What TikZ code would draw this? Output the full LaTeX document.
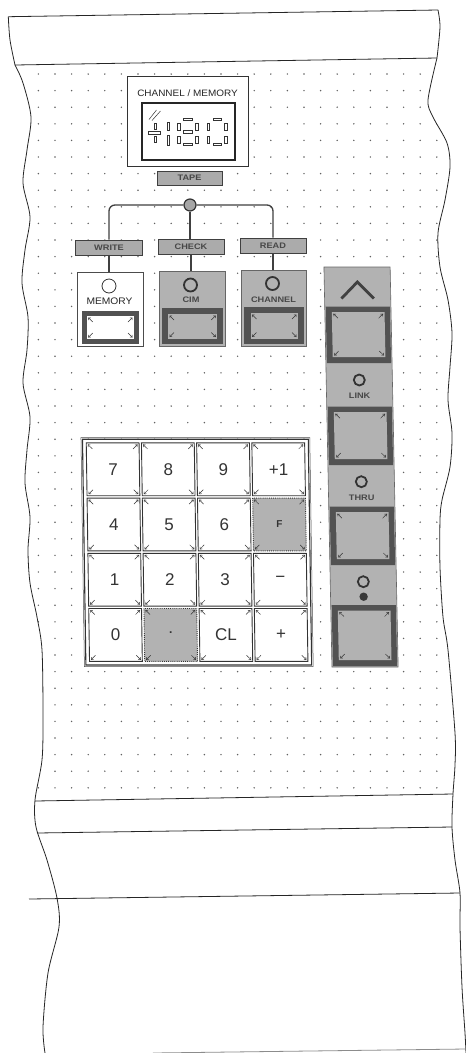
\documentclass[tikz,border=0pt]{standalone}
\usepackage{fontspec}
\setmainfont{Liberation Sans}
\usetikzlibrary{arrows.meta,calc}
\tikzset{
  outline/.style={line width=0.8pt, draw=black!85},
  gdot/.style={fill=black!62},
  lbl/.style={draw=black!75, line width=1pt, fill=black!33, font=\bfseries\fontsize{8}{8}\selectfont, text=black!72, inner sep=0pt, minimum height=15pt},
  bus/.style={line width=1.3pt, draw=black!75, rounded corners=6pt},
  gpanel/.style={draw=black!60, line width=0.6pt, fill=black!30, inner sep=0pt},
  wpanel/.style={draw=black!70, line width=0.6pt, fill=white, inner sep=0pt},
  bframe/.style={fill=black!68},
  binner/.style={fill=black!30},
  winner/.style={fill=white},
  seg/.style={draw=black!80, line width=0.5pt, fill=white},
  lamp/.style={draw=black!80, line width=1.8pt},
  keyt/.style={font=\fontsize{17}{17}\selectfont, text=black!80, inner sep=0pt},
  small/.style={font=\bfseries\fontsize{8}{8}\selectfont, text=black!72, inner sep=0pt},
  keyb/.style={draw=black!80, line width=0.9pt, fill=white},
  cmark/.style={-{Straight Barb[length=1.8pt,width=3pt]}, line width=0.5pt, draw=black!80},
}
\newcommand\hsegm[3]{\draw[seg] ({#1-#3/2},{#2-1.3}) rectangle ({#1+#3/2},{#2+1.3});}
\newcommand\vsegm[3]{\draw[seg] ({#1-1.3},{#2-#3/2}) rectangle ({#1+1.3},{#2+#3/2});}
\newcommand\wide[1]{\scalebox{1.15}[1]{#1}}
\newcommand\cornmk[4]{%
  \draw[cmark] ({#1+6},{#2+6}) -- ({#1+1.5},{#2+1.5});
  \draw[cmark] ({#3-6},{#2+6}) -- ({#3-1.5},{#2+1.5});
  \draw[cmark] ({#1+6},{#4-6}) -- ({#1+1.5},{#4-1.5});
  \draw[cmark] ({#3-6},{#4-6}) -- ({#3-1.5},{#4-1.5});}
\begin{document}
\begin{tikzpicture}[x=1pt,y=-1pt]
\useasboundingbox (0,0) rectangle (466,1053);
\fill[white] (0,0) rectangle (466,1053);

% ---------- dot grid ----------
\begin{scope}
\clip plot[smooth] coordinates {(15,65) (23,83) (31,117) (27,150) (23,183) (30,217) (25,250) (22,283) (28,317) (27,350) (23,383) (30,417) (27,450) (25,483) (30,517) (28,550) (30,583) (37,617) (42,650) (43,717) (42,760) (35,800)}
  -- plot[smooth] coordinates {(453,794) (455,765) (455,733) (448,650) (443,617) (440,567) (440,520) (442,500) (450,467) (452,433) (448,400) (450,367) (452,333) (448,300) (440,267) (438,233) (445,200) (450,167) (447,143) (433,117) (428,100) (437,58)} -- cycle;
\foreach \i in {0,...,24} \foreach \j in {0,...,43}
  \fill[gdot] ({38.4+16.6*\i},{74+16.6*\j}) circle (0.8);
\end{scope}

% ---------- outline ----------
\draw[outline] (8.3,16.7) -- (438,10);
\draw[outline] plot[smooth] coordinates {(8.3,16.7) (10,40) (15,65)};
\draw[outline] (15,65) -- (437,58);
\draw[outline] plot[smooth] coordinates {(438,10) (440,27) (437,58)};
\draw[outline] plot[smooth] coordinates {(15,65) (23,83) (31,117) (27,150) (23,183) (30,217) (25,250) (22,283) (28,317) (27,350) (23,383) (30,417) (27,450) (25,483) (30,517) (28,550) (30,583) (37,617) (42,650) (43,717) (42,760) (35,800) (36,827) (47,860) (57,898) (59,927) (48,973) (43,1027) (45,1053)};
\draw[outline] plot[smooth] coordinates {(437,58) (428,100) (433,117) (447,143) (450,167) (445,200) (438,233) (440,267) (448,300) (452,333) (450,367) (448,400) (452,433) (450,467) (442,500) (440,520) (440,567) (443,617) (448,650) (455,733) (455,765) (453,794) (452,827) (455,860) (460,893) (460,927) (462,987) (465,1033) (466,1053)};
\draw[outline] (35,801) -- (453,794);
\draw[outline] (37,833) -- (452,827);
\draw[outline] (29,899) -- (460,893);
\draw[outline, draw=black!45] (153,1053) -- (466,1049);

% ---------- display ----------
\node[draw=black!80, line width=0.8pt, fill=white, minimum width=121pt, minimum height=90pt, inner sep=0pt] (disp) at (187.5,121) {};
\node[font=\fontsize{9.3}{9.3}\selectfont, text=black!85, inner sep=0pt] (disptitle) at (187.5,93.5) {\scalebox{1.07}[1]{CHANNEL / MEMORY}};
\node[draw=black!85, line width=1.6pt, fill=white, minimum width=93pt, minimum height=57pt, inner sep=0pt] (dispwin) at (188.5,131.5) {};
% indicator marks
\draw[black!80, line width=0.5pt] (149,119.5) -- (156.5,110);
\draw[black!80, line width=0.5pt] (152,120.5) -- (160.5,111);
% sign
\hsegm{154.5}{132.5}{12}
\vsegm{155.3}{126.2}{5.5}
\vsegm{155.3}{139}{5.5}
% 1
\vsegm{168.3}{126.2}{8.5}
\vsegm{168.3}{140}{9.5}
% 8
\hsegm{187.8}{119.3}{8.5}
\hsegm{187.8}{131.7}{8.5}
\hsegm{187.8}{144.3}{8.5}
\vsegm{179}{126.5}{7}
\vsegm{196.7}{126.5}{7}
\vsegm{179}{139.3}{7}
\vsegm{196.7}{139.3}{7}
% 0
\hsegm{217}{119.3}{8.5}
\hsegm{217}{144.3}{8.5}
\vsegm{208.3}{126.5}{7}
\vsegm{225.7}{126.5}{7}
\vsegm{208.3}{139.3}{7}
\vsegm{225.7}{139.3}{7}

% ---------- tape routing ----------
\node[lbl, minimum width=65pt, minimum height=14pt] (tape) at (189.5,178) {\wide{TAPE}};
\node[circle, draw=black!80, line width=1.2pt, fill=black!35, minimum size=12pt, inner sep=0pt] (junc) at (190,205) {};
\node[lbl, minimum width=67pt] (write) at (109,247.5) {\wide{WRITE}};
\node[lbl, minimum width=66pt] (check) at (191,246.5) {\wide{CHECK}};
\node[lbl, minimum width=66pt] (read) at (273,245.5) {\wide{READ}};
\draw[bus] (junc.west) -| (write.north);
\draw[bus] (junc.east) -| (read.north);
\draw[bus] (junc.south) -- (junc.south |- check.north);

% ---------- three panels ----------
\node[wpanel, minimum width=66pt, minimum height=74pt] (mem) at (110,309) {};
\node[gpanel, minimum width=66pt, minimum height=75pt] (cim) at (192,308.5) {};
\node[gpanel, minimum width=65pt, minimum height=76pt] (chan) at (273.5,308) {};
\draw[bus] (write.south) -- (write.south |- mem.north);
\draw[bus] (check.south) -- (check.south |- cim.north);
\draw[bus] (read.south) -- (read.south |- chan.north);

% memory panel
\draw[draw=black!80, line width=0.8pt, fill=white] (109,286) circle (7);
\node[font=\fontsize{9.5}{9.5}\selectfont, text=black!85, inner sep=0pt] (memtxt) at (109.5,301) {\scalebox{1.08}[1]{MEMORY}};
\fill[bframe] (81.7,311) rectangle (139,343.5);
\fill[winner] (86.7,316) rectangle (134,339);
\cornmk{86.7}{316}{134}{339}

% cim panel
\draw[lamp, fill=black!30] (190.5,285) circle (6.5);
\node[small] (cimtxt) at (191,300) {\wide{CIM}};
\fill[bframe] (161.7,308) rectangle (223.3,344);
\fill[binner] (168,314) rectangle (217.3,338.5);
\cornmk{168}{314}{217.3}{338.5}

% channel panel
\draw[lamp, fill=black!30] (272.5,283.5) circle (6.5);
\node[small] (chantxt) at (273.5,299.5) {\wide{CHANNEL}};
\fill[bframe] (244,307) rectangle (304.3,344);
\fill[binner] (250.5,313) rectangle (298,338.5);
\cornmk{250.5}{313}{298}{338.5}

% ---------- right column ----------
\begin{scope}[xslant=-0.02]
\def\L{318.6}\def\R{384.8}
\draw[gpanel] (\L,267) rectangle (\R,667);
\draw[line width=2.8pt, draw=black!75] (335.5,298.5) -- (351.7,282) -- (367.9,298.5);
\foreach \a/\b in {306.7/363, 406.7/465, 506.7/565, 605/666}{
  \fill[bframe] ({\L+1},\a) rectangle ({\R-1},\b);
  \fill[binner] ({\L+7},{\a+5.5}) rectangle ({\R-6.5},{\b-6});
  \cornmk{\L+7}{\a+5.5}{\R-6.5}{\b-6}
}
\draw[lamp] (351.7,380) circle (5.5);
\node[small] (linktxt) at (351.7,396) {\wide{LINK}};
\draw[lamp] (351.7,481.7) circle (5.5);
\node[small] (thrutxt) at (351.7,497.7) {\wide{THRU}};
\draw[lamp] (351.7,581.7) circle (5.5);
\fill[black!78] (351.7,596.7) circle (4.2);
\end{scope}

% ---------- keypad ----------
\begin{scope}[xslant=-0.015]
\draw[draw=black!80, line width=1.1pt, fill=white] (75.9,439.2) rectangle (301.7,665);
\draw[draw=black!70, line width=0.5pt] (74.4,437.7) rectangle (303.2,666.5);
\foreach \c/\r/\t in {0/0/7,1/0/8,2/0/9,3/0/+1,0/1/4,1/1/5,2/1/6,0/2/1,1/2/2,2/2/3,3/2/−,0/3/0,2/3/CL,3/3/+}{
  \draw[keyb] ({78.4+55.2*\c+1.2},{441.7+55.2*\r+1.2}) rectangle ({78.4+55.2*\c+54},{441.7+55.2*\r+54});
  \node[keyt] (key\c\r) at ({78.4+55.2*\c+27.6},{441.7+55.2*\r+27.6}) {\t};
  \cornmk{78.4+55.2*\c+1.2}{441.7+55.2*\r+1.2}{78.4+55.2*\c+54}{441.7+55.2*\r+54}
}
% F key
\draw[keyb, fill=black!30, densely dotted] ({78.4+55.2*3+1.2},{441.7+55.2+1.2}) rectangle ({78.4+55.2*3+54},{441.7+55.2+54});
\node[font=\bfseries\fontsize{10}{10}\selectfont, text=black!80, inner sep=0pt] (key31) at ({78.4+55.2*3+27.6},{441.7+55.2+27.6}) {F};
\cornmk{78.4+55.2*3+1.2}{441.7+55.2+1.2}{78.4+55.2*3+54}{441.7+55.2+54}
% dot key
\draw[keyb, fill=black!30, densely dotted] ({78.4+55.2+1.2},{441.7+55.2*3+1.2}) rectangle ({78.4+55.2+54},{441.7+55.2*3+54});
\node[font=\bfseries\fontsize{12}{12}\selectfont, text=black!80, inner sep=0pt] (key13) at ({78.4+55.2+27.6},{441.7+55.2*3+25}) {.};
\cornmk{78.4+55.2+1.2}{441.7+55.2*3+1.2}{78.4+55.2+54}{441.7+55.2*3+54}
\end{scope}
\end{tikzpicture}
\end{document}
